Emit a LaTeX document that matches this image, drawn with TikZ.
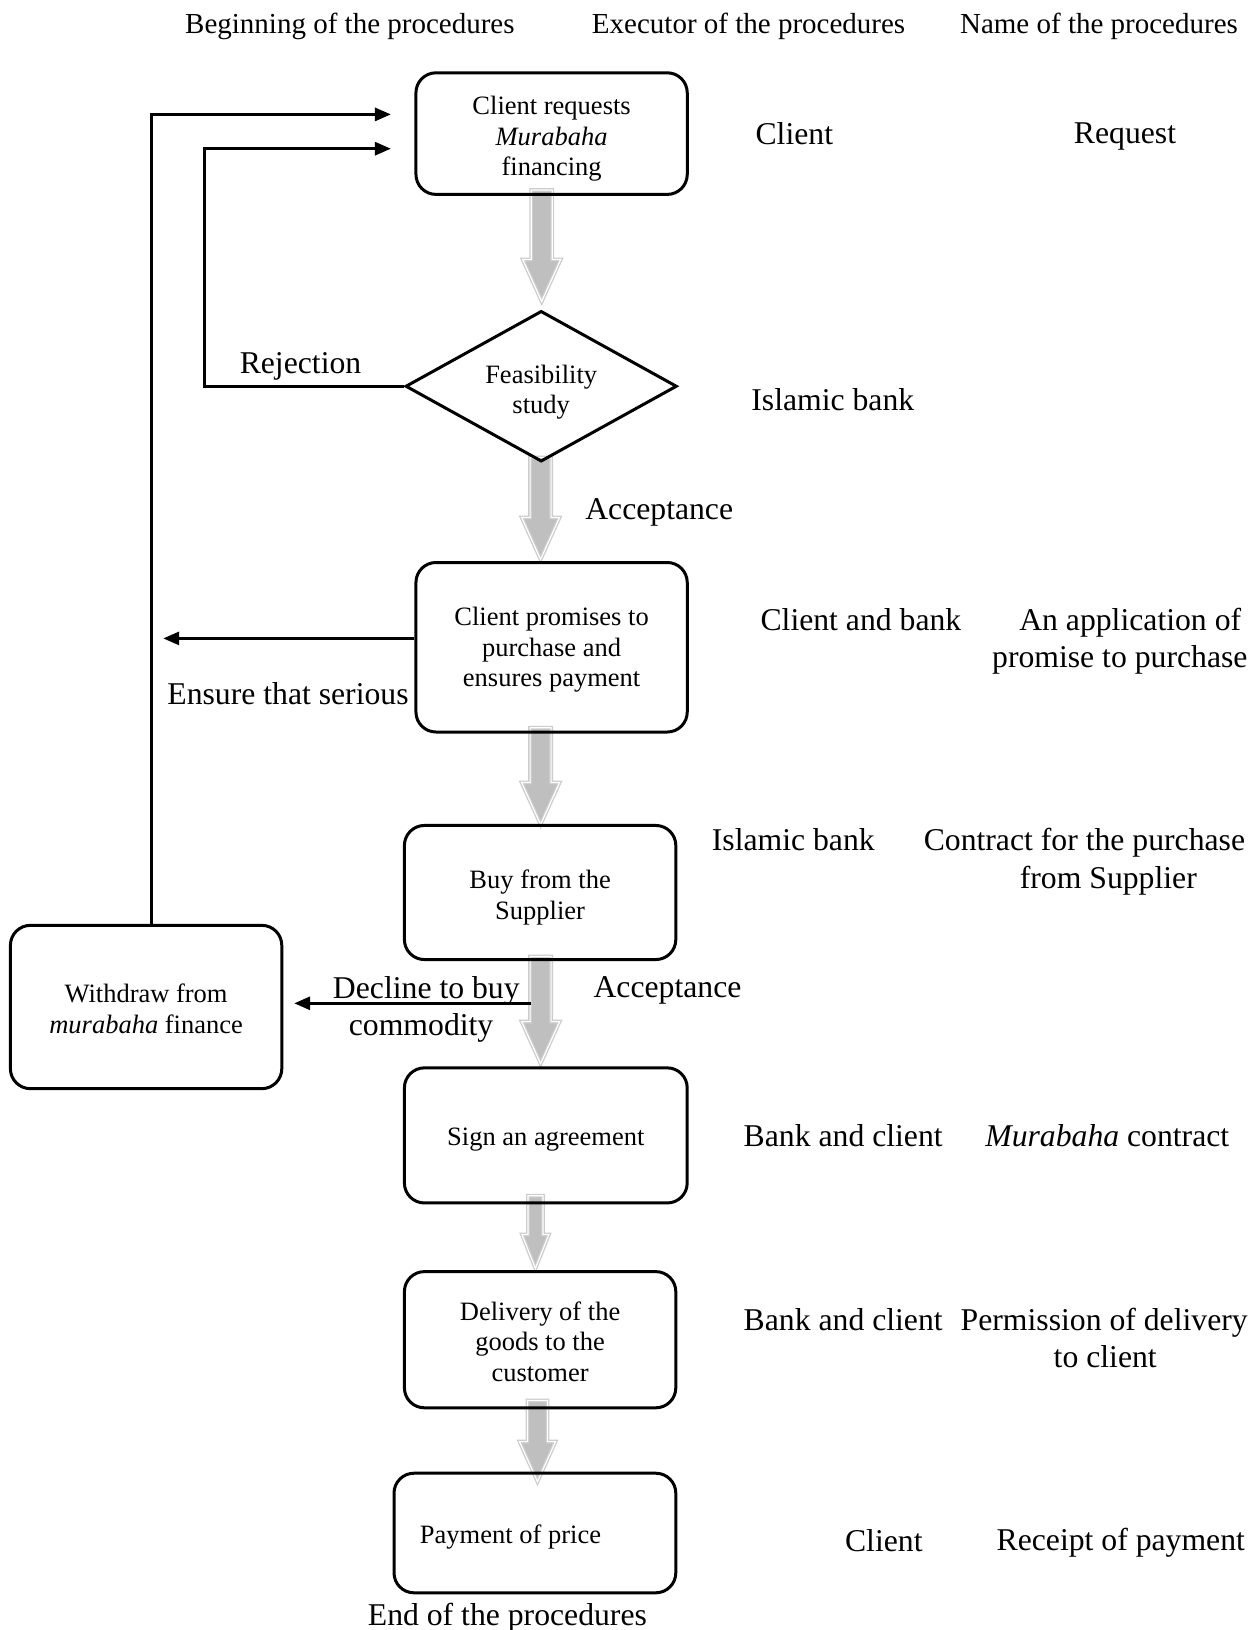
\documentclass[tikz,border=0pt]{standalone}
\usepackage{fontspec}
\setmainfont{Liberation Serif}
\usetikzlibrary{arrows.meta,shapes.geometric,backgrounds,calc}
\newcommand\boxfont{\fontsize{26.5}{30.5}\selectfont}
\newcommand\bigfont{\fontsize{31.7}{37.4}\selectfont}
\newcommand\headfont{\fontsize{29}{34}\selectfont}
% #1 start, #2 tip, #3 shaft half width, #4 head half width, #5 head length
\newcommand\hollowarr[5]{%
  \path[hollow] let \p1=(#1), \p2=(#2) in
   (\x1-#3pt,\y1) -- (\x1+#3pt,\y1) -- (\x1+#3pt,\y2+#5pt) -- (\x1+#4pt,\y2+#5pt)
   -- (\x2,\y2) -- (\x1-#4pt,\y2+#5pt) -- (\x1-#3pt,\y2+#5pt) -- cycle;}
\begin{document}
\begin{tikzpicture}[x=1pt,y=-1pt,
 stepbox/.style={draw,line width=3pt,rounded corners=20pt,inner sep=0pt},
 boxtext/.style={inner sep=0pt,align=center,font=\boxfont},
 arr/.style={line width=3pt,-{Triangle[length=16pt,width=13pt]}},
 hollow/.style={fill=gray!50,draw=gray!40,line width=1.3pt,double=white,double distance=1.2pt},
 big/.style={font=\bigfont,inner sep=0pt},
 head/.style={font=\headfont,inner sep=0pt}]
\useasboundingbox (0,0) rectangle (1258,1630);

% headers
\node[head] (h1) at (349.9,26) {Beginning of the procedures};
\node[head] (h2) at (748.6,26) {Executor of the procedures};
\node[head] (h3) at (1099,26) {Name of the procedures};

% flow boxes
\node[stepbox,minimum width=271.3pt,minimum height=121.6pt] (b1) at (551.6,133.6) {};
\node[boxtext] (b1t) at (551.6,138.8) {Client requests\\\textit{Murabaha}\\financing};
\node[draw,diamond,line width=3pt,inner sep=0pt,minimum width=271.4pt,minimum height=150.7pt] (d) at (541.2,386.25) {};
\node[boxtext] (dt1) at (541.2,392.4) {Feasibility\\study};
\node[stepbox,minimum width=271.3pt,minimum height=169.5pt] (b3) at (551.6,647.25) {};
\node[boxtext] (b3t) at (551.6,649.9) {Client promises to\\purchase and\\ensures payment};
\node[stepbox,minimum width=271.4pt,minimum height=134.1pt] (b4) at (540.1,892.5) {};
\node[boxtext] (b4t) at (540.1,897.7) {Buy from the\\Supplier};
\node[stepbox,minimum width=271.4pt,minimum height=163.3pt] (w) at (146.1,1007) {};
\node[boxtext] (wt) at (146.1,1009) {Withdraw from\\\textit{murabaha} finance};
\node[stepbox,minimum width=282.8pt,minimum height=135.1pt] (b5) at (545.8,1135.4) {};
\node[boxtext] (b5t) at (545.8,1139.6) {Sign an agreement};
\node[stepbox,minimum width=271.4pt,minimum height=136.2pt] (b6) at (540.1,1339.7) {};
\node[boxtext] (b6t) at (540.1,1341.3) {Delivery of the\\goods to the\\customer};
\node[stepbox,minimum width=281.8pt,minimum height=119.6pt] (b7) at (534.9,1533) {};
\node[boxtext] (b7t) at (510.5,1536.7) {Payment of price};

% labels
\node[big] (rej) at (300.5,366) {Rejection};
\node[big] (acc1) at (659.2,512.6) {Acceptance};
\node[big] (ens) at (288,693.5) {Ensure that serious};
\node[big] (acc2) at (667.5,990.8) {Acceptance};
\node[big] (dec1) at (426.3,990.8) {Decline to buy};
\node[big] (dec2) at (421.1,1028.2) {commodity};
\node[big] (endp) at (507.4,1617.7) {End of the procedures};

% right columns
\node[big] (c1) at (794.3,134.1) {Client};
\node[big] (n1) at (1125,136.2) {Request};
\node[big] (c2) at (832.8,399.2) {Islamic bank};
\node[big] (c3) at (860.9,619.7) {Client and bank};
\node[big] (n3a) at (1130.2,622.8) {An application of};
\node[big] (n3b) at (1119.8,660.2) {promise to purchase};
\node[big] (c4) at (793.3,840.1) {Islamic bank};
\node[big] (n4a) at (1084.4,843.2) {Contract for the purchase};
\node[big] (n4b) at (1108.3,880.6) {from Supplier};
\node[big] (c5) at (843.2,1135.4) {Bank and client};
\node[big] (n5) at (1107.3,1135.4) {\textit{Murabaha} contract};
\node[big] (c6) at (843.2,1319.4) {Bank and client};
\node[big] (n6a) at (1104.2,1322.5) {Permission of delivery};
\node[big] (n6b) at (1105.2,1356.8) {to client};
\node[big] (c7) at (883.8,1540.8) {Client};
\node[big] (n7) at (1120.8,1542.9) {Receipt of payment};

% black connectors
\coordinate (r1) at (390.9,148.7);
\coordinate (r2) at (390.9,114.4);
\coordinate (e1) at (163.2,638.4);
\coordinate (dc) at (531.3,1003.3);
\coordinate (dt) at (294.2,1003.3);
\draw[arr] (d.west) -| (204.8,148.7) -- (r1);
\draw[arr] ([xshift=5.7pt]w.north) |- (r2);
\draw[arr] ([yshift=8.85pt]b3.west) -- (e1);
\draw[arr] (dc) -- (dt);

% hollow block arrows
\coordinate (a1s) at (541.7,190);   \coordinate (a1e) at (541.7,301.5);
\coordinate (a2s) at (540.6,457.5); \coordinate (a2e) at (540.6,559.4);
\coordinate (a3s) at (540.6,727.8); \coordinate (a3e) at (540.6,824.5);
\coordinate (a4s) at (540.6,956.5); \coordinate (a4e) at (540.6,1063.6);
\coordinate (a5s) at (535.4,1195.7);\coordinate (a5e) at (535.4,1268.4);
\coordinate (a6s) at (537.5,1400.5);\coordinate (a6e) at (537.5,1481.6);
\begin{pgfonlayer}{background}
\hollowarr{a1s}{a1e}{10.5}{19}{42}
\hollowarr{a2s}{a2e}{10.5}{19}{42}
\hollowarr{a3s}{a3e}{10.5}{19}{42}
\hollowarr{a4s}{a4e}{10.5}{19}{42}
\hollowarr{a5s}{a5e}{7.5}{13.5}{34}
\hollowarr{a6s}{a6e}{10}{18}{40}
\end{pgfonlayer}
\end{tikzpicture}
\end{document}
